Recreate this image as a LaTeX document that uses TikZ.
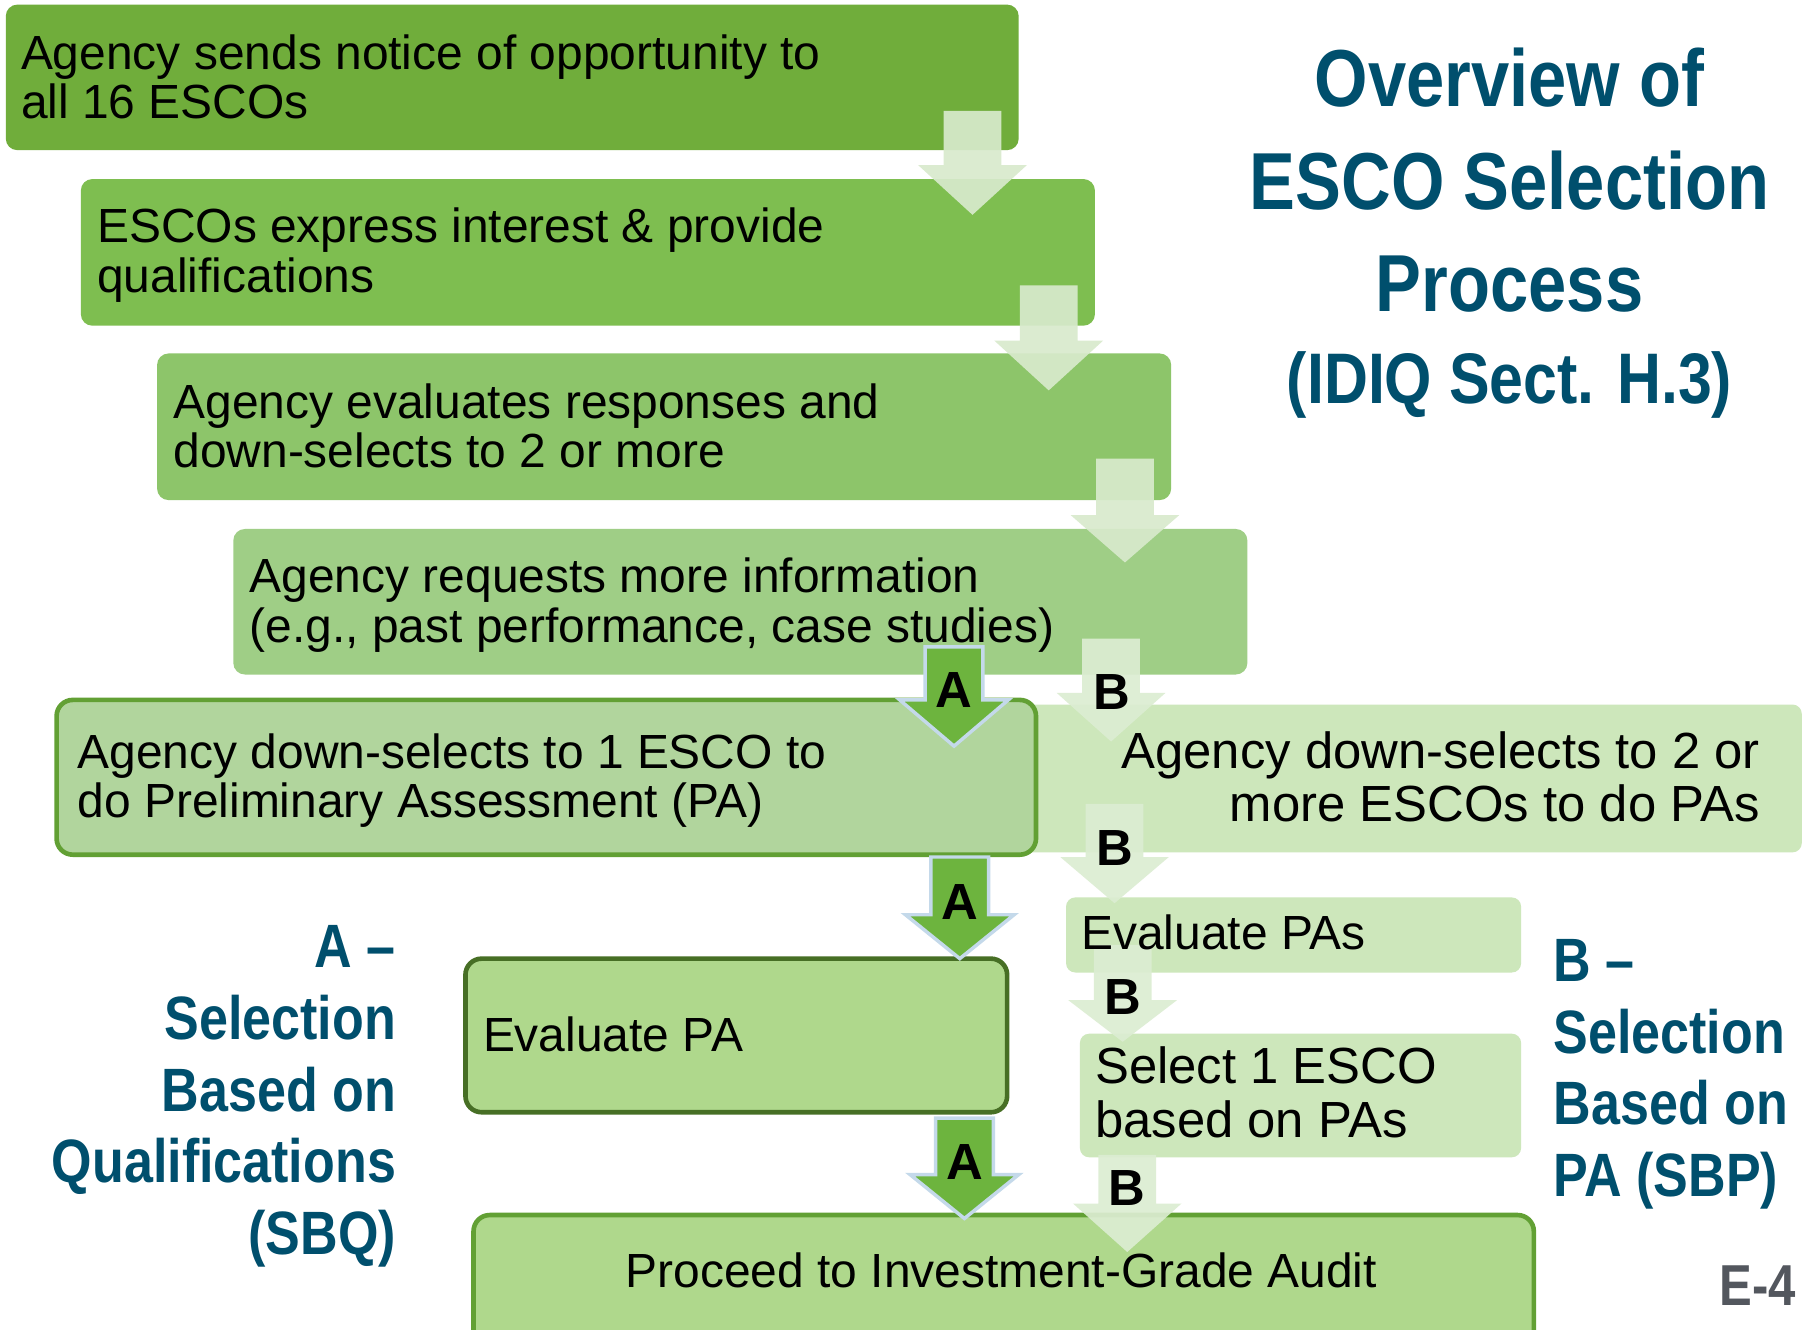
\documentclass[tikz,border=0pt]{standalone}
\usepackage{fontspec}
\setmainfont{Liberation Sans}
\newfontfamily\condfont[FakeStretch=0.85]{Liberation Sans}
\definecolor{s1c}{HTML}{70AD3B}
\definecolor{s2c}{HTML}{7EBE50}
\definecolor{s3c}{HTML}{8DC56A}
\definecolor{s4c}{HTML}{9FCE86}
\definecolor{aboxc}{HTML}{B1D59D}
\definecolor{aedge}{HTML}{62A034}
\definecolor{bboxc}{HTML}{CDE7BB}
\definecolor{evalc}{HTML}{AFD88C}
\definecolor{evaledge}{HTML}{476F25}
\definecolor{lightarr}{HTML}{D8EACC}
\definecolor{barr}{HTML}{DCEDD2}
\definecolor{aarr}{HTML}{6DB43E}
\definecolor{aarredge}{HTML}{C4D9EA}
\definecolor{titlec}{HTML}{004F6D}
\definecolor{pagec}{HTML}{53575E}
\newcommand\mylines[2]{\begin{tabular}[t]{@{}#1@{}}#2\end{tabular}}
% style, centre x, shaft top, head base, tip
\newcommand\blockarrow[5]{\path[#1] (#2-25,#3) -- (#2+25,#3) -- (#2+25,#4) -- (#2+47,#4) -- (#2,#5) -- (#2-47,#4) -- (#2-25,#4) -- cycle;}
\begin{document}
\begin{tikzpicture}[x=1pt,y=-1pt,
  boxnode/.style={anchor=north west, inner sep=0pt, outer sep=0pt},
  body/.style={inner sep=0pt, font=\fontsize{41.5}{43}\selectfont},
  abl/.style={inner sep=0pt, font=\fontsize{44}{44}\selectfont\bfseries},
  side/.style={inner sep=0pt, text=titlec, font=\condfont\bfseries\fontsize{53}{62}\selectfont},
  lightarrow/.style={fill=lightarr, fill opacity=0.92},
  barrow/.style={fill=barr, fill opacity=0.92},
  aarrow/.style={fill=aarr, draw=aarredge, line width=3pt, line join=miter}]
\useasboundingbox[fill=white] (0,0) rectangle (1568,1151);

% step boxes
\node[boxnode, rounded corners=10pt, fill=s1c, minimum width=877pt, minimum height=126pt] (s1) at (5,4) {};
\node[boxnode, rounded corners=10pt, fill=s2c, minimum width=878pt, minimum height=127pt] (s2) at (70,155) {};
\node[boxnode, rounded corners=10pt, fill=s3c, minimum width=878pt, minimum height=127pt] (s3) at (136,306) {};
\node[boxnode, rounded corners=10pt, fill=s4c, minimum width=878pt, minimum height=126pt] (s4) at (202,458) {};

% branch boxes
\node[boxnode, rounded corners=8pt, fill=bboxc, minimum width=690pt, minimum height=128pt] (b1) at (870,610) {};
\node[boxnode, rounded corners=14pt, fill=aboxc, draw=aedge, line width=4pt, minimum width=848pt, minimum height=134pt] (a1) at (49,606) {};
\node[boxnode, rounded corners=8pt, fill=bboxc, minimum width=394pt, minimum height=65pt] (b2) at (923,777) {};
\node[boxnode, rounded corners=8pt, fill=bboxc, minimum width=382pt, minimum height=107pt] (b3) at (935,895) {};
\node[boxnode, rounded corners=14pt, fill=evalc, draw=evaledge, line width=4pt, minimum width=469pt, minimum height=133pt] (a2) at (403,830) {};
\node[boxnode, rounded corners=14pt, fill=evalc, draw=aedge, line width=4pt, minimum width=918pt, minimum height=130pt] (pr) at (410,1052) {};

% light arrows between steps
\blockarrow{lightarrow}{842}{96}{143}{186}
\blockarrow{lightarrow}{908}{247}{295}{338}
\blockarrow{lightarrow}{974}{397}{446}{487}

% B arrows
\blockarrow{barrow}{962}{553}{600}{642}
\blockarrow{barrow}{965}{696}{742}{782}
\blockarrow{barrow}{972}{818}{866}{902}
\blockarrow{barrow}{976}{1000}{1042}{1084}

% A arrows
\blockarrow{aarrow}{826}{560}{606}{646}
\blockarrow{aarrow}{831}{742}{792}{830}
\blockarrow{aarrow}{835}{968}{1017}{1055}

% texts
\node[body, anchor=base west] (t1) at (18,60) {\mylines{l}{Agency sends notice of opportunity to\\all 16 ESCOs}};
\node[body, anchor=base west] (t2) at (84,210) {\mylines{l}{ESCOs express interest \& provide\\qualifications}};
\node[body, anchor=base west] (t3) at (150,362) {\mylines{l}{Agency evaluates responses and\\down-selects to 2 or more}};
\node[body, anchor=base west] (t4) at (216,513) {\mylines{l}{Agency requests more information\\(e.g., past performance, case studies)}};
\node[body, anchor=base west] (ta1) at (67,665) {\mylines{l}{Agency down-selects to 1 ESCO to\\do Preliminary Assessment (PA)}};
\node[body, anchor=base east, font=\fontsize{44}{46}\selectfont] (tb1) at (1524,665) {\mylines{r}{Agency down-selects to 2 or\\more ESCOs to do PAs}};
\node[body, anchor=base west] (tb2) at (936,822) {Evaluate PAs};
\node[body, anchor=base west, font=\fontsize{44}{47}\selectfont] (tb3) at (948,938) {\mylines{l}{Select 1 ESCO\\based on PAs}};
\node[body, anchor=base west] (ta2) at (418,910) {Evaluate PA};
\node[body, anchor=base] (tpr) at (867,1115) {Proceed to Investment-Grade Audit};

% arrow labels
\node[abl] (la1) at (826,597) {A};
\node[abl] (la2) at (831,781) {A};
\node[abl] (la3) at (835,1006) {A};
\node[abl] (lb1) at (963,599) {B};
\node[abl] (lb2) at (965,734) {B};
\node[abl] (lb3) at (972,863) {B};
\node[abl] (lb4) at (976,1029) {B};

% title
\node[inner sep=0pt, anchor=base, text=titlec, font=\condfont\bfseries\fontsize{70}{89}\selectfont] (title) at (1307,92) {\mylines{c}{Overview of\\ESCO Selection\\Process}};
\node[inner sep=0pt, anchor=base, text=titlec, font=\condfont\bfseries\fontsize{62}{62}\selectfont] (subtitle) at (1307,349) {(IDIQ Sect. H.3)};

% side labels
\node[side, anchor=base east] (sideA) at (343,838) {\mylines{r}{A –\\Selection\\Based on\\Qualifications\\(SBQ)}};
\node[side, anchor=base west] (sideB) at (1345,850) {\mylines{l}{B –\\Selection\\Based on\\PA (SBP)}};

\node[inner sep=0pt, anchor=base east, text=pagec, font=\condfont\bfseries\fontsize{50}{50}\selectfont] (pg) at (1555,1130) {E-4};
\end{tikzpicture}
\end{document}
